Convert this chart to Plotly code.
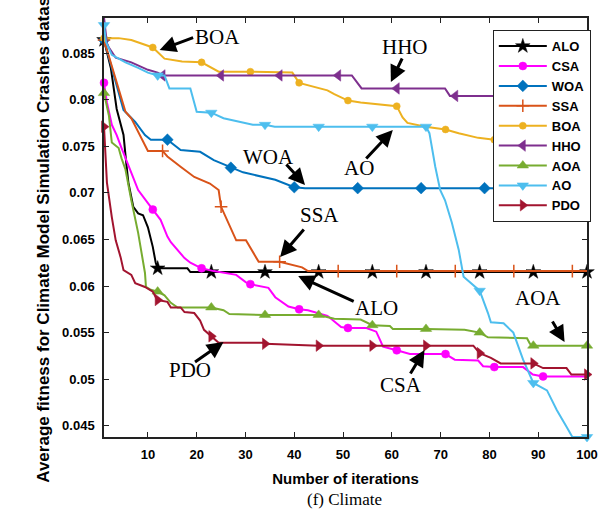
import plotly.graph_objects as go

# ---------------- data ----------------
names = ["ALO", "CSA", "WOA", "SSA", "BOA", "HHO", "AOA", "AO", "PDO"]

ALO_x = [1, 2.4, 3.6, 5, 5.6, 6, 7, 8, 9, 10, 11, 11.6, 12, 18.1, 18.7, 100]
ALO_y = [0.0864, 0.0834, 0.0790, 0.0762, 0.0730, 0.0711, 0.0685, 0.0678, 0.0676, 0.0663, 0.0642,
         0.0625, 0.0619, 0.0619, 0.0615, 0.0615]
ALO_mx = [1, 12, 23, 34, 45, 56, 67, 78, 89, 100]
ALO_my = [0.0864, 0.0619, 0.0615, 0.0615, 0.0615, 0.0615, 0.0615, 0.0615, 0.0615, 0.0615]

CSA_x = [1, 1.6, 2.6, 3.6, 4.6, 6, 7, 8, 10, 11, 12.6, 14, 14.7, 17.5, 18.7, 21, 23.5, 28.1, 30.1,
         31, 34.7, 36.1, 38.8, 41, 42.8, 46.8, 49.6, 51, 54.8, 56.8, 58.2, 61, 63.7, 71, 72.9, 77.7,
         78.7, 81, 86.9, 88.9, 91, 100]
CSA_y = [0.0818, 0.0797, 0.0773, 0.0762, 0.0748, 0.0730, 0.0717, 0.0703, 0.0689, 0.0682, 0.0671,
         0.0653, 0.0647, 0.0630, 0.0625, 0.0619, 0.0616, 0.0612, 0.0604, 0.0602, 0.0598, 0.0588,
         0.0578, 0.0575, 0.0574, 0.0568, 0.0556, 0.0555, 0.0555, 0.0551, 0.0535, 0.0531, 0.0527,
         0.0527, 0.0521, 0.0520, 0.0514, 0.0513, 0.0513, 0.0505, 0.0503, 0.0503]
CSA_mx = [1, 11, 21, 31, 41, 51, 61, 71, 81, 91]
CSA_my = [0.0818, 0.0682, 0.0619, 0.0602, 0.0575, 0.0555, 0.0531, 0.0527, 0.0513, 0.0503]

WOA_x = [1, 5, 7.4, 9.4, 10.6, 14, 16.7, 20.7, 23.5, 27, 29.5, 36.1, 40, 42.2, 100]
WOA_y = [0.0864, 0.0789, 0.0776, 0.0762, 0.0757, 0.0757, 0.0746, 0.0744, 0.0735, 0.0727, 0.0722,
         0.0714, 0.0706, 0.0705, 0.0705]
WOA_mx = [1, 14, 27, 40, 53, 66, 79, 92]
WOA_my = [0.0864, 0.0757, 0.0727, 0.0706, 0.0705, 0.0705, 0.0705, 0.0705]

SSA_x = [1, 5.4, 6.6, 8, 10, 13, 14, 16.7, 19.5, 22.7, 24.5, 25, 28.1, 30.1, 32.7, 37, 41.6, 42.8, 100]
SSA_y = [0.0864, 0.0787, 0.0780, 0.0765, 0.0745, 0.0745, 0.0739, 0.0728, 0.0717, 0.0710, 0.0703,
         0.0685, 0.0649, 0.0649, 0.0626, 0.0626, 0.0620, 0.0616, 0.0616]
SSA_mx = [1, 13, 25, 37, 49, 61, 73, 85, 97]
SSA_my = [0.0864, 0.0745, 0.0685, 0.0626, 0.0616, 0.0616, 0.0616, 0.0616, 0.0616]

BOA_x = [1, 4, 6.6, 10, 11, 13.4, 17, 21, 24.5, 31, 39.6, 41, 46.8, 48.2, 51, 53.6, 60.2, 61, 62.2,
         63.2, 66.9, 71, 73.7, 77.7, 81, 91, 94, 96, 97.5, 100]
BOA_y = [0.0866, 0.0866, 0.0864, 0.0858, 0.0856, 0.0844, 0.0841, 0.0840, 0.0830, 0.0830, 0.0829,
         0.0818, 0.0810, 0.0806, 0.0799, 0.0797, 0.0793, 0.0793, 0.0781, 0.0775, 0.0771, 0.0768,
         0.0764, 0.0759, 0.0757, 0.0756, 0.0755, 0.0750, 0.0743, 0.0738]
BOA_mx = [1, 11, 21, 31, 41, 51, 61, 71, 81, 91]
BOA_my = [0.0866, 0.0856, 0.0840, 0.0830, 0.0818, 0.0799, 0.0793, 0.0768, 0.0757, 0.0756]

HHO_x = [1, 1.6, 2, 3.4, 6.6, 8, 10, 12, 13, 51.8, 53.8, 61, 70.9, 71.9, 73, 88, 90, 97, 100]
HHO_y = [0.0888, 0.0860, 0.0856, 0.0845, 0.0840, 0.0837, 0.0832, 0.0829, 0.0826, 0.0826, 0.0812,
         0.0812, 0.0812, 0.0804, 0.0804, 0.0804, 0.0800, 0.0800, 0.0800]
HHO_mx = [1, 13, 25, 37, 49, 61, 73, 85, 97]
HHO_my = [0.0888, 0.0826, 0.0826, 0.0826, 0.0826, 0.0812, 0.0804, 0.0804, 0.0800]

AOA_x = [1, 1.4, 2, 2.6, 4, 4.6, 5.4, 6.6, 8, 9.4, 9.6, 10.6, 12, 13.4, 14.7, 16.1, 23, 25.5, 26.7,
         34, 45, 48.2, 53.6, 56, 59.6, 60.2, 67, 74.9, 78, 79.7, 87.7, 88.3, 89, 100]
AOA_y = [0.0807, 0.0797, 0.0783, 0.0754, 0.0748, 0.0737, 0.0725, 0.0692, 0.0657, 0.0614, 0.0599,
         0.0596, 0.0594, 0.0590, 0.0582, 0.0577, 0.0577, 0.0574, 0.0570, 0.0569, 0.0569, 0.0565,
         0.0564, 0.0558, 0.0557, 0.0554, 0.0554, 0.0553, 0.0550, 0.0545, 0.0544, 0.0538, 0.0536,
         0.0536]
AOA_mx = [1, 12, 23, 34, 45, 56, 67, 78, 89, 100]
AOA_my = [0.0807, 0.0594, 0.0577, 0.0569, 0.0569, 0.0558, 0.0554, 0.0550, 0.0536, 0.0536]

AO_x = [1, 1.4, 2.6, 5.4, 8, 10, 12, 13.4, 14.4, 18.7, 20, 23, 25.5, 31.5, 34, 36, 45, 56, 67, 67.7,
        68.9, 69.9, 70.9, 72.3, 73.7, 74.7, 76.3, 78, 79.7, 80.3, 82.9, 84.9, 86.9, 89, 91.8, 93.8,
        95.8, 97, 100]
AO_y = [0.0880, 0.0862, 0.0848, 0.0840, 0.0834, 0.0829, 0.0826, 0.0826, 0.0812, 0.0812, 0.0787,
        0.0786, 0.0780, 0.0773, 0.0773, 0.0771, 0.0771, 0.0771, 0.0771, 0.0764, 0.0728, 0.0703,
        0.0692, 0.0668, 0.0639, 0.0610, 0.0603, 0.0595, 0.0571, 0.0561, 0.0560, 0.0550, 0.0521,
        0.0496, 0.0488, 0.0467, 0.0449, 0.0438, 0.0438]
AO_mx = [1, 12, 23, 34, 45, 56, 67, 78, 89, 100]
AO_my = [0.0880, 0.0826, 0.0786, 0.0773, 0.0771, 0.0771, 0.0771, 0.0595, 0.0496, 0.0438]

PDO_x = [1, 1.2, 1.4, 1.6, 2.6, 3.4, 4.4, 5, 6.6, 7.4, 9.4, 11, 11.6, 12, 14, 14.7, 16.7, 17.5, 19.5,
         20.7, 21.5, 23, 23.5, 24.5, 33.5, 34, 45, 76.7, 78, 80.3, 82.3, 89, 91, 95.8, 96.8, 100]
PDO_y = [0.0771, 0.0755, 0.0730, 0.0711, 0.0674, 0.0649, 0.0631, 0.0617, 0.0612, 0.0603, 0.0599,
         0.0594, 0.0588, 0.0585, 0.0583, 0.0577, 0.0577, 0.0572, 0.0571, 0.0563, 0.0553, 0.0546,
         0.0544, 0.0539, 0.0539, 0.0538, 0.0536, 0.0536, 0.0528, 0.0523, 0.0517, 0.0517, 0.0512,
         0.0512, 0.0505, 0.0505]
PDO_mx = [1, 12, 23, 34, 45, 56, 67, 78, 89, 100]
PDO_my = [0.0771, 0.0585, 0.0546, 0.0538, 0.0536, 0.0536, 0.0536, 0.0528, 0.0517, 0.0505]

x_ticks = [10, 20, 30, 40, 50, 60, 70, 80, 90, 100]
y_ticks = [0.045, 0.05, 0.055, 0.06, 0.065, 0.07, 0.075, 0.08, 0.085]

# ---------------- styles ----------------
series = {
    "ALO": (ALO_x, ALO_y, ALO_mx, ALO_my),
    "CSA": (CSA_x, CSA_y, CSA_mx, CSA_my),
    "WOA": (WOA_x, WOA_y, WOA_mx, WOA_my),
    "SSA": (SSA_x, SSA_y, SSA_mx, SSA_my),
    "BOA": (BOA_x, BOA_y, BOA_mx, BOA_my),
    "HHO": (HHO_x, HHO_y, HHO_mx, HHO_my),
    "AOA": (AOA_x, AOA_y, AOA_mx, AOA_my),
    "AO": (AO_x, AO_y, AO_mx, AO_my),
    "PDO": (PDO_x, PDO_y, PDO_mx, PDO_my),
}
colors = {"ALO": "#000000", "CSA": "#FF00FF", "WOA": "#0072BD", "SSA": "#D95319",
          "BOA": "#EDB120", "HHO": "#7E2F8E", "AOA": "#77AC30", "AO": "#4DBEEE",
          "PDO": "#A2142F"}
symbols = {"ALO": ("star", 11), "CSA": ("circle", 8), "WOA": ("diamond", 9),
           "SSA": ("cross-thin", 9), "BOA": ("circle", 7), "HHO": ("triangle-left", 10),
           "AOA": ("triangle-up", 10), "AO": ("triangle-down", 10), "PDO": ("triangle-right", 10)}

SANS = "Liberation Sans, Arial, sans-serif"
SERIF = "Liberation Serif, Times New Roman, serif"

fig = go.Figure()
for n in names:
    xs, ys, mx, my = series[n]
    c = colors[n]
    sym, sz = symbols[n]
    mk = dict(symbol=sym, size=sz, color=c, line=dict(color=c, width=1.5 if sym == "cross-thin" else 0.5))
    fig.add_trace(go.Scatter(x=xs, y=ys, mode="lines", line=dict(color=c, width=2),
                             showlegend=False, hoverinfo="skip", legendgroup=n))
    fig.add_trace(go.Scatter(x=mx, y=my, mode="markers", marker=mk, showlegend=False,
                             cliponaxis=False, legendgroup=n))
    fig.add_trace(go.Scatter(x=[None], y=[None], mode="lines+markers", name=n,
                             line=dict(color=c, width=2), marker=mk, legendgroup=n))

# annotations: (label, tip_x, tip_y, ax, ay, text_x, text_y)
notes = [
    ("BOA", 12.4, 0.08532, 35, -13, 24.3, 0.08672),
    ("HHO", 59.8, 0.08189, 12, -25, 62.6, 0.08564),
    ("WOA", 42.2, 0.07084, -20, -22, 34.7, 0.07384),
    ("AO", 60.2, 0.07674, -28, 30, 53.2, 0.07266),
    ("SSA", 37.1, 0.06311, 25, -29, 45.2, 0.06762),
    ("ALO", 40.8, 0.06107, 57, 26, 56.8, 0.05764),
    ("AOA", 95.4, 0.05399, -13, -22, 90.0, 0.05871),
    ("CSA", 66.7, 0.05313, -15, 25, 61.8, 0.04938),
    ("PDO", 25.5, 0.05399, -30, 21, 18.7, 0.05099),
]
for lab, tx, ty, ax, ay, lx, ly in notes:
    fig.add_annotation(x=tx, y=ty, ax=ax, ay=ay, text="", showarrow=True, arrowhead=2,
                       arrowsize=1.1, arrowwidth=3, arrowcolor="black", xref="x", yref="y")
    fig.add_annotation(x=lx, y=ly, text=lab, showarrow=False, xref="x", yref="y",
                       font=dict(family=SERIF, size=21, color="black"))

fig.add_annotation(x=0.497, y=-0.150, xref="paper", yref="paper", text="(f) Climate",
                   showarrow=False, yanchor="middle",
                   font=dict(family=SERIF, size=17, color="black"))

axis_common = dict(showline=True, linecolor="#222222", linewidth=1.5, mirror="allticks",
                   ticks="inside", ticklen=5, tickcolor="#222222", tickwidth=1,
                   showgrid=False, zeroline=False,
                   tickfont=dict(family=SANS, size=13, color="black", weight="bold"))

fig.update_layout(
    width=609, height=519,
    margin=dict(l=104, r=11, t=18, b=82),
    paper_bgcolor="white", plot_bgcolor="white",
    xaxis=dict(range=[1, 100], tickvals=x_ticks, ticklabelstandoff=5,
               title=dict(text="Number of iterations", standoff=12,
                          font=dict(family=SANS, size=15, color="black", weight="bold")),
               **axis_common),
    yaxis=dict(range=[0.0438, 0.08876], tickvals=y_ticks, ticklabelstandoff=5,
               title=dict(text="Average fitness for Climate Model Simulation Crashes datasets",
                          standoff=8,
                          font=dict(family=SANS, size=17, color="black", weight="bold")),
               **axis_common),
    legend=dict(x=0.805, y=0.971, xanchor="left", yanchor="top", bgcolor="white",
                bordercolor="#222222", borderwidth=1, itemwidth=48, tracegroupgap=2,
                traceorder="normal",
                font=dict(family=SANS, size=13, color="black", weight="bold")),
    showlegend=True,
)

fig.write_html("out.html")
